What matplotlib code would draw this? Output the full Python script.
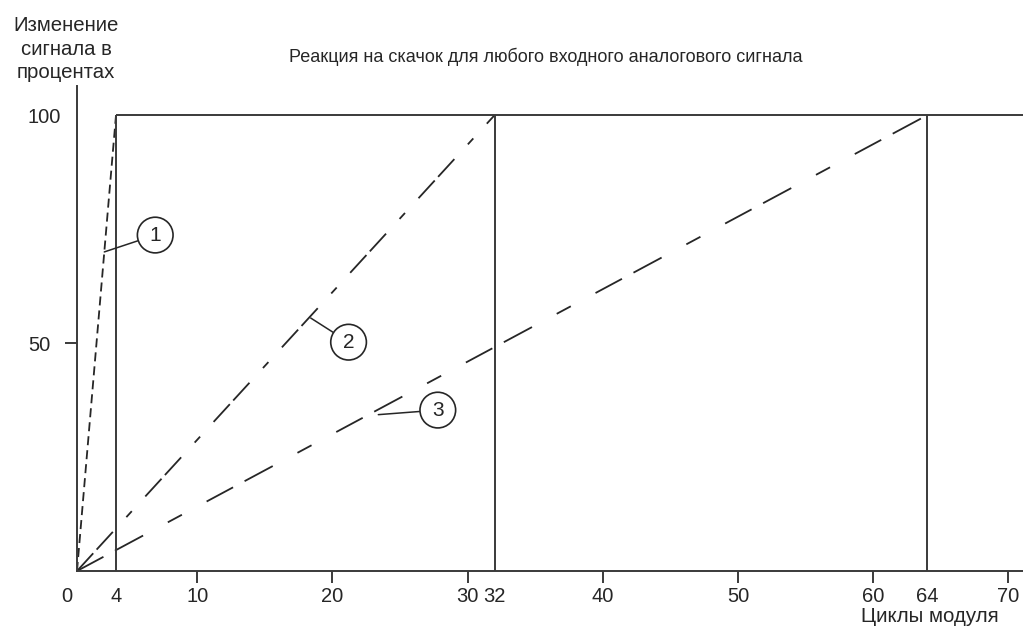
import numpy as np
import matplotlib
matplotlib.use("Agg")
import matplotlib.pyplot as plt
from matplotlib.transforms import ScaledTranslation

plt.rcParams['font.family'] = ['Liberation Sans', 'DejaVu Sans']
plt.rcParams['lines.scale_dashes'] = False

# data
settle_cycles = [4, 32, 64]        # module cycles until the step reaches 100 %
curve_ids = ['1', '2', '3']
full_scale = 100                   # percent
x_major = [10, 20, 30, 40, 50, 60, 70]
x_marked = [0, 4, 32, 64]
y_major = [50]
y_marked = [100]

# callouts: point on the curve, centre of the circle
callout_xy = [(2.8, 70), (18.4, 55.5), (23.4, 34.3)]
callout_txt = [(6.9, 73.7), (21.2, 50.2), (27.8, 35.3)]

title = "Реакция на скачок для любого входного аналогового сигнала"
ylabel = "Изменение\nсигнала в\nпроцентах"
xlabel = "Циклы модуля"

ink = '#262626'
frame = '#3a3a3a'


# the schematic squeezes the first 4 cycles
def fwd(x):
    x = np.asarray(x, dtype=float)
    return np.where(x < 4, x * 9.75, 39 + (x - 4) * 13.52)


def inv(u):
    u = np.asarray(u, dtype=float)
    return np.where(u < 39, u / 9.75, 4 + (u - 39) / 13.52)


fig = plt.figure(figsize=(10.23, 6.29), dpi=100)
ax = fig.add_axes([77 / 1023, 58 / 629, 946 / 1023, 485 / 629])
ax.set_xscale('function', functions=(fwd, inv))
x_right = 71.08
ax.set_xlim(0, x_right)
ax.set_ylim(0, 106.4)

dash_styles = [
    (0, (6.5, 3.6)),
    (0, (17.3, 3.6, 17.3, 14.4, 5.8, 14.4)),
    (0, (21.6, 9.4, 23.0, 20.2, 11.5, 20.2)),
]
for t, ls in zip(settle_cycles, dash_styles):
    ax.plot([0, t], [0, full_scale], color=ink, lw=1.3, linestyle=ls)

# frame of settling times
ax.vlines(settle_cycles, 0, full_scale, color=frame, lw=1.4)
ax.hlines(full_scale, settle_cycles[0], x_right, color=frame, lw=1.4, clip_on=False)

for lab, xy, txy in zip(curve_ids, callout_xy, callout_txt):
    ax.annotate(lab, xy=xy, xytext=txy, ha='center', va='center',
                fontsize=15, color=ink,
                bbox=dict(boxstyle='circle,pad=0.4', fc='white', ec=ink, lw=1.2),
                arrowprops=dict(arrowstyle='-', color=ink, lw=1.1,
                                shrinkA=0, shrinkB=0))

for side in ['top', 'right']:
    ax.spines[side].set_visible(False)
for side in ['left', 'bottom']:
    ax.spines[side].set_color(frame)
    ax.spines[side].set_linewidth(1.4)

ax.set_xticks(x_major, labels=[str(v) for v in x_major])
ax.set_xticks(x_marked, labels=[str(v) for v in x_marked], minor=True)
ax.set_yticks(y_major, labels=[str(v) for v in y_major])
ax.set_yticks(y_marked, labels=[str(v) for v in y_marked], minor=True)
ax.tick_params(axis='both', which='major', direction='out', length=8.6,
               width=1.4, color=frame, labelsize=14.5, labelcolor=ink)
ax.tick_params(axis='x', which='major', pad=3.2)
ax.tick_params(axis='y', which='major', pad=10.8)
ax.tick_params(axis='both', which='minor', length=0, labelsize=14.5, labelcolor=ink)
ax.tick_params(axis='x', which='minor', pad=11.8)
ax.tick_params(axis='y', which='minor', pad=11.5)

# the "0" sits a little left of the origin in the reference
zero_tick = ax.xaxis.get_minor_ticks()[0]
zero_tick.label1.set_transform(zero_tick.label1.get_transform()
                               + ScaledTranslation(-0.1, 0, fig.dpi_scale_trans))

ax.set_title(title, x=0.496, y=1.049, pad=0, fontsize=13.0, color=ink)
ax.set_xlabel(xlabel, fontsize=14.8, color=ink)
ax.xaxis.set_label_coords(0.9017, -0.074)
ax.set_ylabel(ylabel, fontsize=14.7, color=ink, rotation=0, ha='center', va='center',
              linespacing=1.3)
ax.yaxis.set_label_coords(-0.0116, 1.076)

fig.savefig('out.png', dpi=100)
